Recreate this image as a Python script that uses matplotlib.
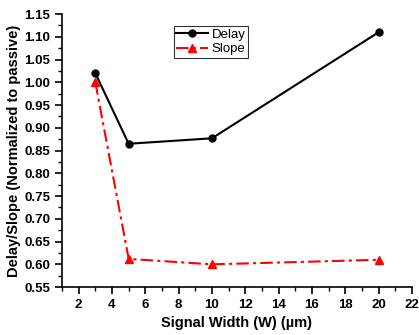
import matplotlib
matplotlib.use("Agg")
import matplotlib.pyplot as plt
from matplotlib.ticker import MultipleLocator

plt.rcParams['font.family'] = ['Liberation Sans', 'DejaVu Sans']

width = [3, 5, 10, 20]
delay = [1.02, 0.865, 0.877, 1.11]
slope = [1.00, 0.612, 0.600, 0.610]

fig = plt.figure(figsize=(4.19, 3.35), dpi=100)
ax = fig.add_axes([0.148, 0.143, 0.835, 0.815])

ax.plot(width, delay, color="black", marker="o", markersize=5, linewidth=1.5, label="Delay")
ax.plot(width, slope, color="red", marker="^", markersize=6, linewidth=1.5,
        linestyle=(0, (6, 2, 1.5, 2)), label="Slope")

ax.set_xlim(1, 22)
ax.set_ylim(0.55, 1.15)
ax.xaxis.set_major_locator(MultipleLocator(2))
ax.xaxis.set_minor_locator(MultipleLocator(1))
ax.yaxis.set_major_locator(MultipleLocator(0.05))
ax.yaxis.set_minor_locator(MultipleLocator(0.025))
ax.yaxis.set_major_formatter(matplotlib.ticker.FormatStrFormatter("%.2f"))

ax.spines["top"].set_visible(False)
ax.spines["right"].set_visible(False)
ax.spines["left"].set_linewidth(1.2)
ax.spines["bottom"].set_linewidth(1.2)
ax.tick_params(which="major", direction="out", length=5, width=1.2, labelsize=9.5)
ax.tick_params(which="minor", direction="out", length=3, width=1.0)
for lab in ax.get_xticklabels() + ax.get_yticklabels():
    lab.set_fontweight("bold")

ax.set_xlabel("Signal Width (W) (\u00b5m)", fontsize=10.5, fontweight="bold")
ax.set_ylabel("Delay/Slope (Normalized to passive)", fontsize=10.5, fontweight="bold", labelpad=2)

leg = ax.legend(loc="upper left", bbox_to_anchor=(0.30, 0.98), fontsize=9.5,
                frameon=True, fancybox=False, edgecolor="black",
                handlelength=2.4, borderpad=0.2, labelspacing=0.15, handletextpad=0.3)
leg.get_frame().set_linewidth(0.8)

fig.savefig("out.png", dpi=100)
